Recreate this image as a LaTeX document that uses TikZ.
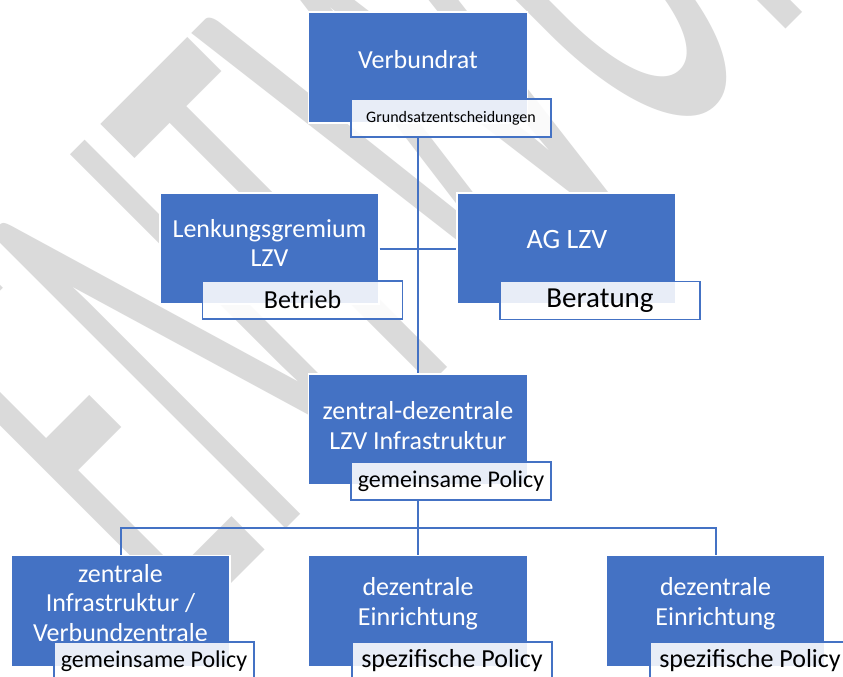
\documentclass[tikz,border=0pt]{standalone}
\usepackage{fontspec}
\setmainfont{Carlito}
\usepackage{graphicx}
\definecolor{boxblue}{HTML}{4472C4}
\definecolor{wmgrey}{RGB}{218,218,218}
\begin{document}
\begin{tikzpicture}[x=1pt,y=-1pt,
  mainbox/.style={draw=white, line width=1.2pt, fill=boxblue, minimum width=219pt, minimum height=111pt, inner sep=0pt},
  subbox/.style={draw=boxblue, line width=1.5pt, fill=white, fill opacity=0.88, text opacity=1, text=black, minimum width=200pt, minimum height=38pt, inner sep=0pt},
  maintext/.style={text=white, align=center, font=\fontsize{26}{29.5}\selectfont, inner sep=0pt},
  conn/.style={draw=boxblue, line width=2pt},
  fsmall/.style={font=\fontsize{16}{18}\selectfont},
  fmid/.style={font=\fontsize{24}{28}\selectfont},
  fbig/.style={font=\fontsize{26}{30}\selectfont}]
\useasboundingbox (0,0) rectangle (843,677);
\clip (0,0) rectangle (843,677);
\fill[white] (0,0) rectangle (843,677);
% watermark
\node[anchor=base west, rotate=45, inner sep=0pt, text=wmgrey, font=\fontsize{260}{260}\selectfont] (wm) at (181,634) {\scalebox{1.02}[2.5]{ENTWURF}};
% main boxes
\node[mainbox] (vb) at (418,67.5) {};
\node[mainbox] (lb) at (269.5,248.5) {};
\node[mainbox] (ab) at (566.5,248.5) {};
\node[mainbox] (zb) at (418,429.5) {};
\node[mainbox] (b1) at (120.5,611) {};
\node[mainbox] (b2) at (418,611) {};
\node[mainbox] (b3) at (715.5,611) {};
% texts in main boxes
\node[maintext] (vt) at (418,60) {Verbundrat};
\node[maintext] (lt) at (269.5,243) {Lenkungsgremium\\LZV};
\node[maintext, font=\fontsize{28}{32}\selectfont] (at) at (567,240) {AG LZV};
\node[maintext] (zt) at (418,425.5) {zentral-dezentrale\\LZV Infrastruktur};
\node[maintext] (b1t) at (120.5,603) {zentrale\\Infrastruktur /\\Verbundzentrale};
\node[maintext] (b2t) at (418,603.5) {dezentrale\\Einrichtung};
\node[maintext] (b3t) at (715.5,603.5) {dezentrale\\Einrichtung};
% sub boxes
\node[subbox, fsmall] (vs) at (451,118) {Grundsatzentscheidungen};
\node[subbox, fbig] (ls) at (302.5,300) {Betrieb};
\node[subbox, font=\fontsize{29}{32}\selectfont] (as) at (600,300.5) {Beratung};
\node[subbox, fmid] (zs) at (451,481) {gemeinsame Policy};
\node[subbox, fmid] (b1s) at (154,661) {gemeinsame Policy};
\node[subbox, fbig] (b2s) at (452,661) {spezifische Policy};
\node[subbox, fbig] (b3s) at (750,661) {spezifische Policy};
% connectors
\coordinate (bus) at (418,528);
\draw[conn] (vb.center |- vs.south) -- (zb.north);
\draw[conn] (lb.east) -- (ab.west);
\draw[conn] (zb.center |- zs.south) -- (bus);
\draw[conn] (b1.north) -- (b1.north |- bus) -- (b3.north |- bus) -- (b3.north);
\draw[conn] (bus) -- (b2.north);
\end{tikzpicture}
\end{document}
